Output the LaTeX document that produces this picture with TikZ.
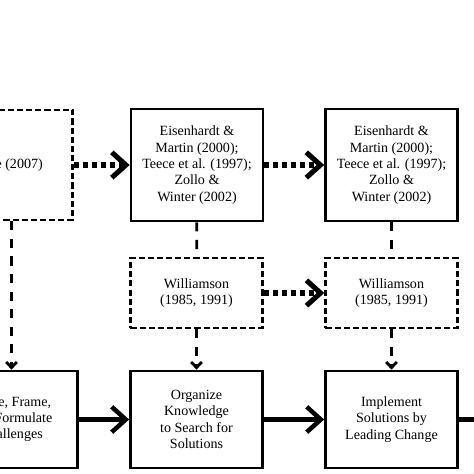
\documentclass[tikz,border=0pt]{standalone}
\usepackage{fontspec}
\setmainfont{Liberation Serif}
\usetikzlibrary{arrows.meta}

\begin{document}
\begin{tikzpicture}[x=0.025cm, y=-0.025cm,
		box/.style={draw, line width=1.9pt, minimum width=3.3cm, align=center, font=\fontsize{10}{11.6}\selectfont},
		dbox/.style={box, line width=1.7pt, dash pattern=on 4.3pt off 2.2pt},
		link/.style={line width=2pt, dash pattern=on 6.5pt off 6pt},
		dlink/.style={link, -{Straight Barb[length=4pt, width=7.5pt]}},
		dotarrow/.style={line width=3.6pt, dash pattern=on 3.6pt off 2.8pt, -{Straight Barb[length=10pt, width=18pt]}},
		solidarrow/.style={line width=3.2pt, -{Straight Barb[length=10pt, width=18pt]}}]
		\useasboundingbox[clip] (0,0) rectangle (474,474);
		
		\node[dbox, minimum width=3.325cm, minimum height=2.75cm] (teece) at (6, 165) {Teece (2007)};
		\node[box, minimum height=2.8cm] (eisen1) at (197, 165) {Eisenhardt \&\\Martin (2000);\\Teece et al. (1997);\\Zollo \&\\Winter (2002)};
		\node[box, minimum height=2.8cm] (eisen2) at (391.5, 165) {Eisenhardt \&\\Martin (2000);\\Teece et al. (1997);\\Zollo \&\\Winter (2002)};
		
		\node[dbox, minimum height=1.75cm] (will1) at (196.5, 293) {Williamson\\(1985, 1991)};
		\node[dbox, minimum height=1.75cm] (will2) at (391.5, 293) {Williamson\\(1985, 1991)};
		
		\node[box, minimum height=2.425cm] (sense) at (11.5, 419.5) {Sense, Frame,\\and Formulate\\Challenges};
		\node[box, minimum height=2.425cm] (organize) at (196.5, 419.5) {Organize\\Knowledge\\to Search for\\Solutions};
		\node[box, minimum height=2.425cm] (implement) at (391.5, 419.5) {Implement\\Solutions by\\Leading Change};
		\coordinate (exit) at (510, 419.5);
		
		\draw[dotarrow] (teece) -- (eisen1);
		\draw[dotarrow] (eisen1) -- (eisen2);
		\draw[dotarrow] (will1) -- (will2);
		
		\draw[dlink] (teece.south -| sense.north) -- (sense);
		\draw[link] (eisen1) -- (will1);
		\draw[dlink] (will1) -- (organize);
		\draw[link] (eisen2) -- (will2);
		\draw[dlink] (will2) -- (implement);
		
		\draw[solidarrow] (sense) -- (organize);
		\draw[solidarrow] (organize) -- (implement);
		\draw[solidarrow] (implement) -- (exit);
	\end{tikzpicture}
\end{document}
